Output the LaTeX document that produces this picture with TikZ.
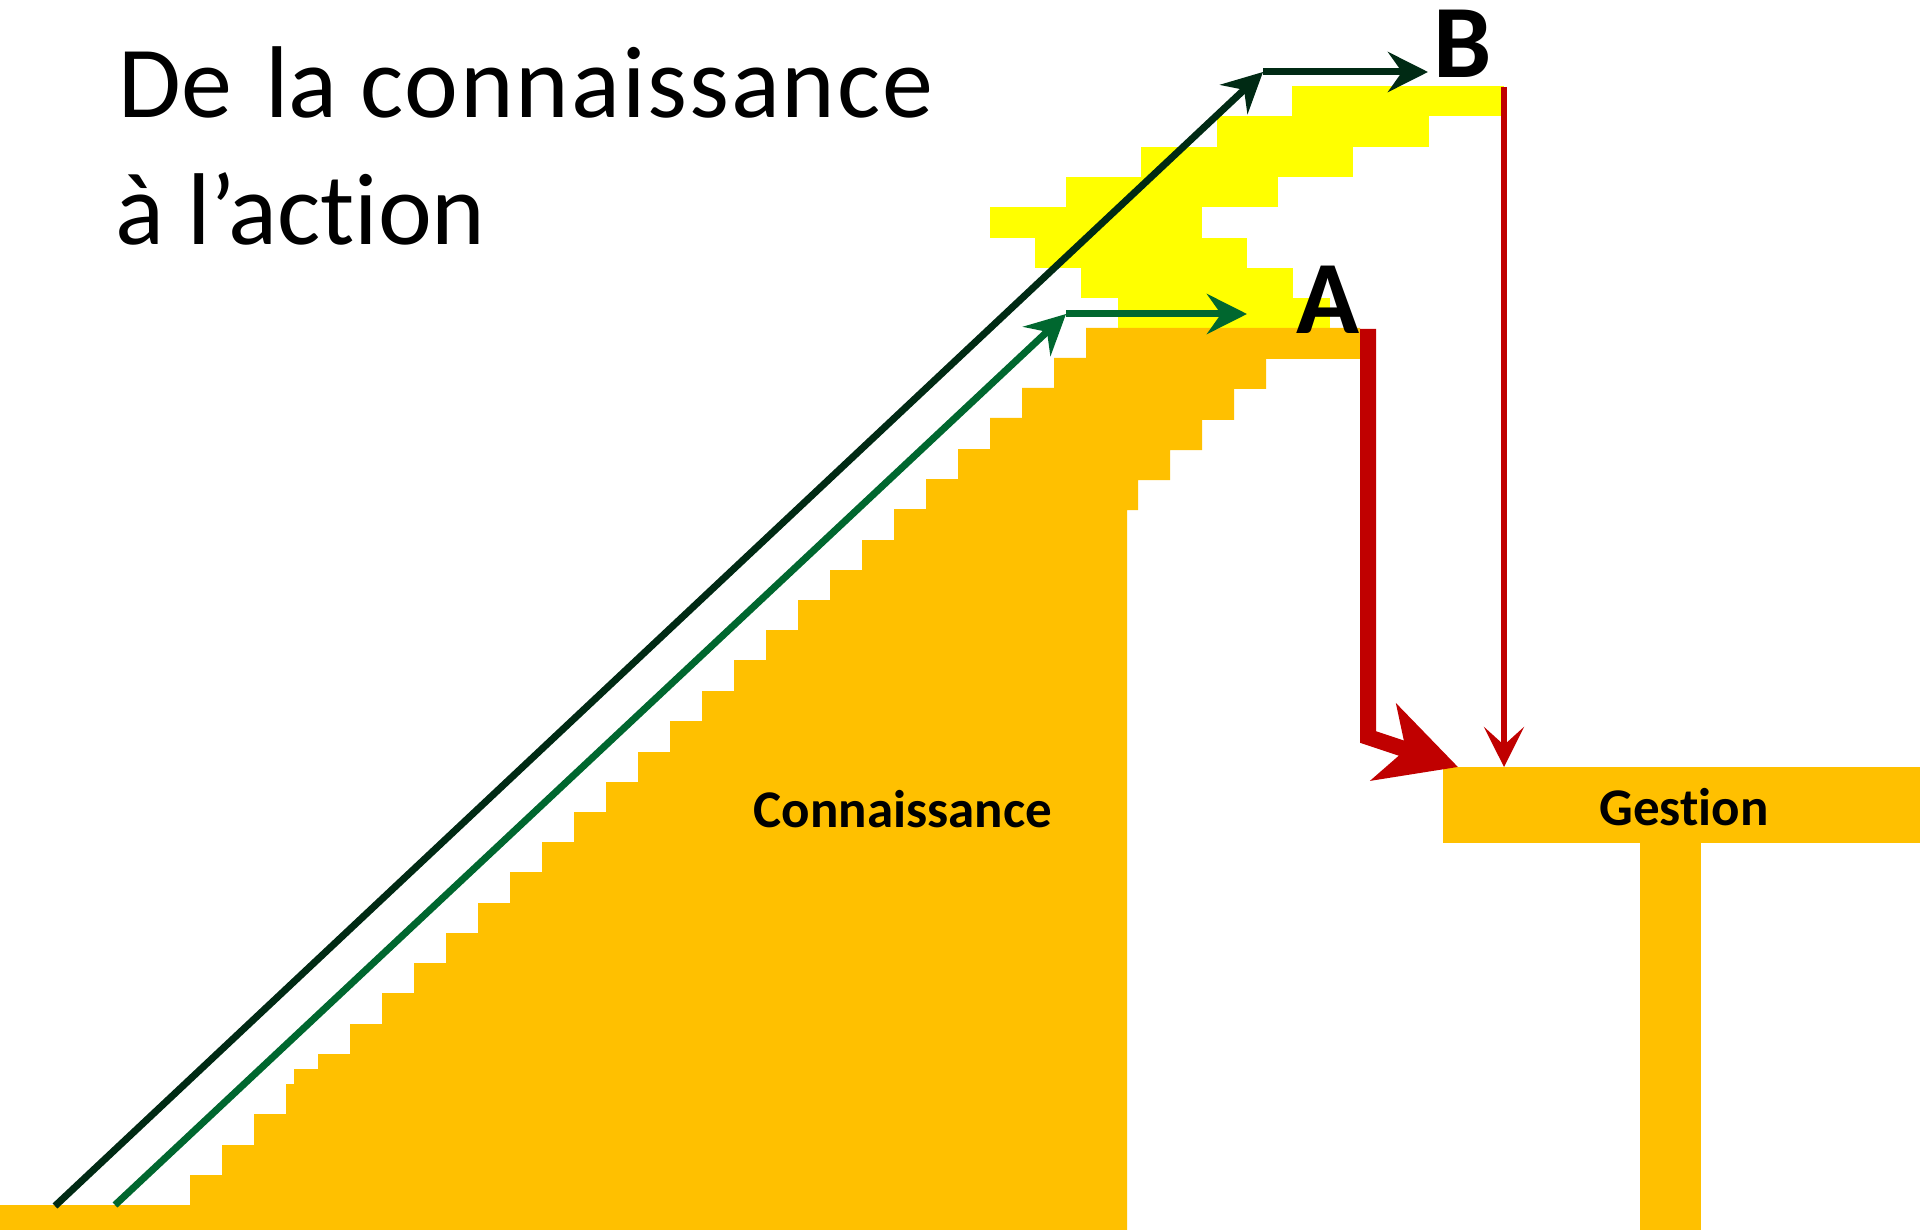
\documentclass[tikz,border=0pt]{standalone}
\usepackage{fontspec}
\setmainfont{Carlito}[Ligatures=NoCommon]
\usetikzlibrary{arrows.meta}
\definecolor{gold}{HTML}{FFC000}
\definecolor{ylw}{HTML}{FFFF00}
\definecolor{redd}{HTML}{C00000}
\definecolor{dgreen}{HTML}{002A14}
\definecolor{mgreen}{HTML}{00672F}
\tikzset{
  goldfill/.style={fill=gold},
  ylwfill/.style={fill=ylw},
  darkarrow/.style={draw=dgreen, line width=7pt, -{Stealth[length=40pt,width=40pt,inset=14pt]}},
  greenarrow/.style={draw=mgreen, line width=7pt, -{Stealth[length=40pt,width=40pt,inset=14pt]}},
  thickred/.style={draw=redd, line width=16pt, line join=miter, -{Stealth[length=78pt,width=80pt,inset=23pt]}},
  thinred/.style={draw=redd, line width=6pt, -{Stealth[length=40pt,width=40pt,inset=18pt]}},
  titletext/.style={inner sep=0pt, anchor=base west, font=\fontsize{102}{128}\selectfont},
  lettertext/.style={inner sep=0pt, anchor=base west, font=\fontsize{104}{120}\selectfont\bfseries},
  labeltext/.style={inner sep=0pt, anchor=base, font=\fontsize{53}{60}\selectfont\bfseries}
}
\begin{document}
\begin{tikzpicture}[x=1pt,y=-1pt]
\useasboundingbox (0,0) rectangle (1920,1230);
% yellow staircase (upper)
\fill[ylwfill] (1292,86) rectangle (1504,116);
\fill[ylwfill] (1217,116) rectangle (1429,147);
\fill[ylwfill] (1141,147) rectangle (1353,177);
\fill[ylwfill] (1066,177) rectangle (1278,207);
\fill[ylwfill] (990,207) rectangle (1202,238);
\fill[ylwfill] (1035,238) rectangle (1247,268);
\fill[ylwfill] (1081,268) rectangle (1293,298);
\fill[ylwfill] (1118,298) rectangle (1330,328.5);
% orange staircase (knowledge)
\fill[goldfill] (0,1230) -- (0,1205) -- (190,1205) -- (190,1175) -- (222,1175) -- (222,1145) -- (254,1145) -- (254,1114) -- (286,1114) -- (286,1084) -- (294,1084) -- (294,1069) -- (318,1069) -- (318,1054) -- (350,1054) -- (350,1024) -- (382,1024) -- (382,993) -- (414,993) -- (414,963) -- (446,963) -- (446,933) -- (478,933) -- (478,903) -- (510,903) -- (510,872) -- (542,872) -- (542,842) -- (574,842) -- (574,812) -- (606,812) -- (606,782) -- (638,782) -- (638,752) -- (670,752) -- (670,721) -- (702,721) -- (702,691) -- (734,691) -- (734,660) -- (766,660) -- (766,630) -- (798,630) -- (798,600) -- (830,600) -- (830,570) -- (862,570) -- (862,540) -- (894,540) -- (894,509) -- (926,509) -- (926,479) -- (958,479) -- (958,449) -- (990,449) -- (990,418) -- (1022,418) -- (1022,388) -- (1054,388) -- (1054,358) -- (1086,358) -- (1086,328) -- (1360,328) -- (1360,359) -- (1266,359) -- (1266,389) -- (1234,389) -- (1234,420) -- (1202,420) -- (1202,450) -- (1170,450) -- (1170,480) -- (1138,480) -- (1138,510) -- (1127,510) -- (1127,1230) -- cycle;
% Gestion T
\fill[goldfill] (1443,767) rectangle (1920,843);
\fill[goldfill] (1640,842) rectangle (1701,1230);
% texts
\node[titletext] (t1) at (118.5,117.5) {De\hspace{10pt} la {\addfontfeature{LetterSpace=1.9}connaissance}};
\node[titletext] (t2) at (115,245) {à l’action};
\node[lettertext] (la) at (1296,334) {A};
\node[lettertext] (lb) at (1433,78) {B};
\node[labeltext] (conn) at (903,827) {Connaissance};
\node[labeltext] (gest) at (1684,825) {Gestion};
% coordinates
\coordinate (d0) at (55,1206);
\coordinate (d1) at (1263,72);
\coordinate (d2) at (1428,72);
\coordinate (g0) at (115,1205);
\coordinate (g1) at (1066,314);
\coordinate (g2) at (1247,314);
\coordinate (r0) at (1368,329);
\coordinate (r1) at (1368,737);
\coordinate (r2) at (1458,767);
\coordinate (s0) at (1504,87);
\coordinate (s1) at (1504,767);
% arrows
\draw[darkarrow] (d0) -- (d1);
\draw[darkarrow] (d1) -- (d2);
\draw[greenarrow] (g0) -- (g1);
\draw[greenarrow] (g1) -- (g2);
\draw[thickred] (r0) -- (r1) -- (r2);
\draw[thinred] (s0) -- (s1);
\end{tikzpicture}
\end{document}
